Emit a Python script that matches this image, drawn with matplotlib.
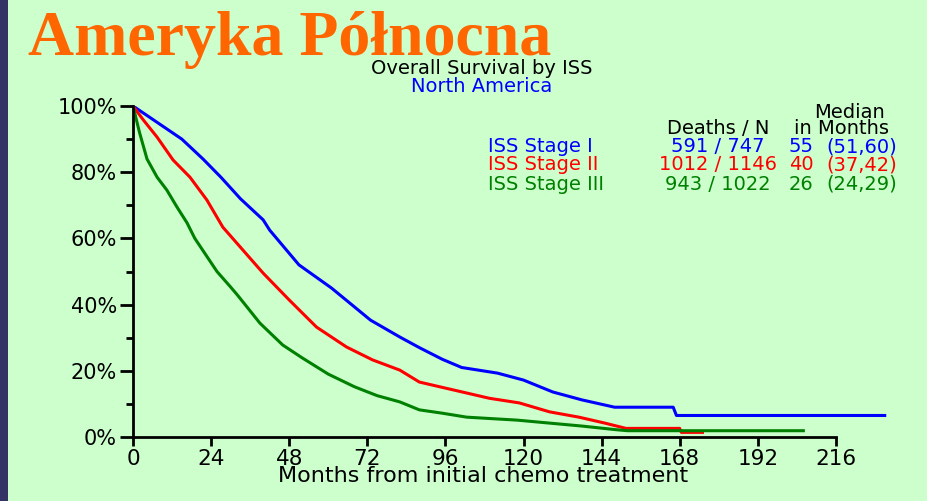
import matplotlib
matplotlib.use("Agg")
from matplotlib import pyplot as plt
from matplotlib.patches import Rectangle

# Krzywe przezycia, miesiace / % przezycia
months_1 = [0, 3, 9, 15, 21.5, 27, 33, 40, 42, 51, 61, 73, 82, 88, 95, 101, 112, 120, 129, 138, 148, 166, 167, 231]
surv_1 = [100, 98, 94, 90, 84, 78.5, 72, 65.6, 62.5, 52, 45, 35.3, 30.2, 27, 23.5, 21, 19.3, 17.2, 13.6, 11.2, 9, 9, 6.5, 6.5]

months_2 = [0, 3, 7.4, 12.3, 17.5, 22.7, 27.6, 40, 48, 56.4, 65.6, 73.6, 82, 88, 95, 102.5, 109.5, 118.7, 128, 137, 145, 151.5, 168, 168.5, 175]
surv_2 = [100, 96, 90.6, 83.7, 78.5, 71.6, 63.4, 49.5, 41.4, 33.2, 27.2, 23.3, 20.2, 16.6, 15, 13.3, 11.7, 10.3, 7.6, 6, 4.2, 2.6, 2.6, 1.4, 1.4]

months_3 = [0, 2, 4.3, 7.4, 10.4, 13.5, 16.6, 19, 25.8, 30, 32, 39, 46, 52, 60, 68, 75, 82, 88, 95, 102.5, 118, 128, 138, 148.5, 152, 206]
surv_3 = [100, 92, 84, 78.5, 74.6, 69.5, 64.7, 60, 50, 45.3, 43, 34.4, 27.8, 23.9, 19, 15.2, 12.5, 10.6, 8.2, 7.2, 6, 5.1, 4.2, 3.3, 2.2, 1.9, 1.9]

stage_labels = ["ISS Stage I", "ISS Stage II", "ISS Stage III"]
deaths = [591, 1012, 943]
n_patients = [747, 1146, 1022]
medians = [55, 40, 26]
ci_low = [51, 37, 24]
ci_high = [60, 42, 29]
colors = ["#0000FF", "#FF0000", "#008000"]

x_ticks = [0, 24, 48, 72, 96, 120, 144, 168, 192, 216]
y_ticks = [0, 20, 40, 60, 80, 100]

plt.rcParams["font.family"] = ["DejaVu Sans"]
bg = "#CCFFCC"
fig = plt.figure(figsize=(9.27, 5.01), dpi=100, facecolor=bg)
fig.patches.append(Rectangle((0, 0), 8 / 927, 1, transform=fig.transFigure,
                             facecolor="#333366", edgecolor="none"))

ax = fig.add_axes([133 / 927, 64 / 501, 781 / 927, 331 / 501])
ax.set_facecolor(bg)

for m, s, c in zip([months_1, months_2, months_3], [surv_1, surv_2, surv_3], colors):
    ax.plot(m, s, color=c, linewidth=2.2)

ax.set_xlim(0, 240)
ax.set_ylim(0, 100)
for sp in ["top", "right"]:
    ax.spines[sp].set_visible(False)
ax.spines["left"].set_linewidth(2)
ax.spines["bottom"].set_linewidth(2)
ax.spines["left"].set_bounds(0, 100)
ax.spines["bottom"].set_bounds(0, 216)

ax.set_xticks(x_ticks)
ax.set_xticklabels([str(t) for t in x_ticks], fontsize=15.5)
ax.set_yticks(y_ticks)
ax.set_yticklabels([f"{t}%" for t in y_ticks], fontsize=15)
ax.set_yticks([10, 30, 50, 70, 90], minor=True)
ax.tick_params(axis="x", length=6.5, width=2, pad=2)
ax.tick_params(axis="y", which="major", length=9.5, width=2, pad=2)
ax.tick_params(axis="y", which="minor", length=5, width=2)

fig.text(483 / 927, (501 - 482) / 501, "Months from initial chemo treatment",
         ha="center", va="baseline", fontsize=16)

fig.text(28 / 927, (501 - 55) / 501, "Ameryka Północna", ha="left", va="baseline",
         fontsize=46, fontweight="bold", color="#FF6600", family="Liberation Serif")
fig.text(482 / 927, (501 - 68) / 501, "Overall Survival by ISS", ha="center", va="center",
         fontsize=14)
fig.text(482 / 927, (501 - 87) / 501, "North America", ha="center", va="center",
         fontsize=14, color="#0000FF")

# tabela legendy
fs = 14
fig.text(850 / 927, (501 - 112) / 501, "Median", ha="center", va="center", fontsize=fs)
fig.text(718 / 927, (501 - 129) / 501, "Deaths / N", ha="center", va="center", fontsize=fs)
fig.text(842 / 927, (501 - 129) / 501, "in Months", ha="center", va="center", fontsize=fs)
row_y = [147, 165, 184]
for lab, d, n, med, lo, hi, c, yy in zip(stage_labels, deaths, n_patients, medians, ci_low, ci_high, colors, row_y):
    y = (501 - yy) / 501
    fig.text(488 / 927, y, lab, ha="left", va="center", fontsize=fs, color=c)
    fig.text(718 / 927, y, f"{d} / {n}", ha="center", va="center", fontsize=fs, color=c)
    fig.text(789 / 927, y, f"{med}", ha="left", va="center", fontsize=fs, color=c)
    fig.text(897 / 927, y, f"({lo},{hi})", ha="right", va="center", fontsize=fs, color=c)

fig.savefig("out.png", dpi=100, facecolor=bg)
